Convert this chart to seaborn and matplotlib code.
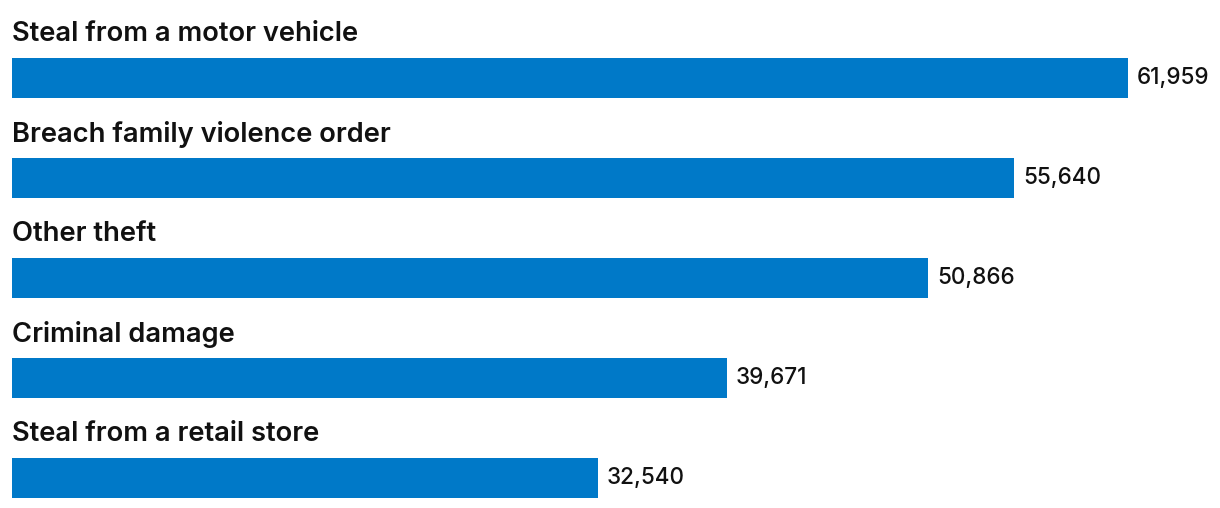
import pandas as pd
import matplotlib
matplotlib.use('Agg')
import matplotlib.pyplot as plt
import seaborn as sns

categories = ['Steal from a motor vehicle', 'Breach family violence order', 'Other theft',
              'Criminal damage', 'Steal from a retail store']
values = [61959, 55640, 50866, 39671, 32540]
value_labels = ['61,959', '55,640', '50,866', '39,671', '32,540']

df = pd.DataFrame({'offence': categories, 'count': values})

sns.set_style('white')
plt.rcParams['font.family'] = ['Inter', 'DejaVu Sans']

fig = plt.figure(figsize=(12.2, 5.08), dpi=100)
ax = fig.add_axes([12 / 1220, 0, (1128 - 12) / 1220, 1])

sns.barplot(data=df, x='count', y='offence', color='#0079C8', width=0.4,
            saturation=1, linewidth=0, ax=ax, orient='h')

ax.set_xlim(0, max(values))
ax.set_ylim(4.30, -0.78)

for i, (cat, v, lab) in enumerate(zip(categories, values, value_labels)):
    ax.text(0, i - 0.44, cat, ha='left', va='center', fontsize=19.7,
            fontweight='semibold', color='#111111', clip_on=False)
    ax.text(v + max(values) * 0.008, i, lab, ha='left', va='center',
            fontsize=16.2, fontweight='medium', color='#111111', clip_on=False)

ax.set_xlabel('')
ax.set_ylabel('')
ax.set_xticks([])
ax.set_yticks([])
sns.despine(ax=ax, left=True, bottom=True)

fig.savefig('out.png', dpi=100)
